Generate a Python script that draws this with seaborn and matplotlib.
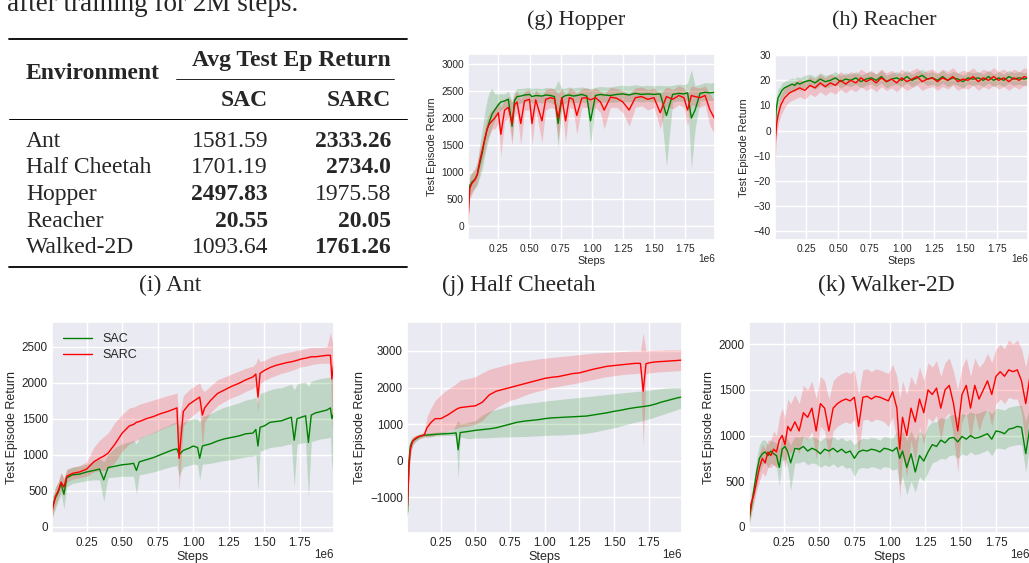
import numpy as np
import matplotlib
matplotlib.use("Agg")
import matplotlib.pyplot as plt
from matplotlib.lines import Line2D
import seaborn as sns

# ------------------------------------------------------------
# data (steps in millions, returns)
# ------------------------------------------------------------
table_envs = ["Ant", "Half Cheetah", "Hopper", "Reacher", "Walked-2D"]
table_sac = ["1581.59", "1701.19", "2497.83", "20.55", "1093.64"]
table_sarc = ["2333.26", "2734.0", "1975.58", "20.05", "1761.26"]
table_sac_bold = [False, False, True, True, False]
table_sarc_bold = [True, True, False, True, True]

hopper_steps = [0.005, 0.02, 0.04, 0.06, 0.08, 0.10, 0.12, 0.14, 0.16, 0.18,
                0.20, 0.22, 0.25, 0.27, 0.30, 0.33, 0.36, 0.38, 0.40, 0.43,
                0.46, 0.50, 0.52, 0.55, 0.60, 0.63, 0.67, 0.70, 0.73, 0.76,
                0.79, 0.82, 0.85, 0.88, 0.92, 0.96, 0.99, 1.03, 1.07, 1.10,
                1.15, 1.20, 1.25, 1.30, 1.35, 1.40, 1.45, 1.50, 1.55, 1.60,
                1.65, 1.70, 1.74, 1.77, 1.80, 1.83, 1.87, 1.91, 1.95, 1.99]
hopper_sac = [250, 750, 820, 860, 950, 1150, 1350, 1600, 1800, 1950,
              2080, 2150, 2250, 2300, 2320, 2350, 1850, 2330, 2400, 2410,
              2430, 2440, 2400, 2420, 2410, 2430, 2420, 2400, 1900, 2380,
              2420, 2430, 2410, 2420, 2440, 2410, 1950, 2420, 2440, 2430,
              2420, 2440, 2450, 2430, 2460, 2440, 2450, 2440, 2450, 2050,
              2440, 2460, 2450, 2470, 2000, 2150, 2460, 2480, 2470, 2480]
hopper_sac_lo = [100, 550, 650, 700, 750, 900, 1050, 1300, 1500, 1700,
                 1850, 1950, 2100, 2150, 2200, 2200, 1600, 2200, 2250, 2280,
                 2300, 2300, 2280, 2300, 2280, 2300, 2290, 2250, 1450, 2250,
                 2280, 2300, 2280, 2290, 2300, 2280, 1500, 2280, 2300, 2300,
                 2290, 2300, 2310, 2300, 2320, 2300, 2310, 2300, 2310, 1100,
                 2300, 2320, 2310, 2330, 1050, 1800, 2320, 2330, 2330, 2340]
hopper_sac_hi = [400, 950, 1000, 1050, 1200, 1500, 1800, 2100, 2350, 2500,
                 2550, 2450, 2450, 2450, 2450, 2500, 2300, 2500, 2550, 2550,
                 2560, 2570, 2550, 2560, 2550, 2570, 2560, 2550, 2700, 2550,
                 2560, 2580, 2560, 2570, 2580, 2560, 2550, 2570, 2590, 2580,
                 2580, 2600, 2610, 2600, 2620, 2600, 2610, 2600, 2610, 2600,
                 2610, 2630, 2620, 2650, 2900, 2600, 2630, 2660, 2650, 2670]
hopper_sarc = [50, 700, 800, 850, 950, 1200, 1400, 1600, 1800, 1900,
               1950, 2000, 2100, 1700, 2150, 2200, 1900, 2250, 2300, 1900,
               2320, 2350, 1900, 2340, 1950, 2350, 2380, 2360, 2000, 2380,
               1950, 2380, 2350, 2050, 2370, 2380, 2340, 2380, 2300, 2150,
               2390, 2370, 2300, 2150, 2380, 2400, 2350, 2380, 2100, 2400,
               2350, 2420, 2380, 2150, 2420, 2400, 2380, 2420, 2150, 1980]
hopper_sarc_lo = [0, 500, 600, 700, 800, 1000, 1200, 1400, 1600, 1700,
                  1800, 1800, 1900, 1300, 1950, 2000, 1500, 2050, 2100, 1500,
                  2150, 2150, 1500, 2150, 1550, 2150, 2200, 2180, 1600, 2200,
                  1550, 2200, 2180, 1700, 2200, 2200, 2150, 2200, 2100, 1800,
                  2200, 2200, 2100, 1850, 2200, 2230, 2150, 2200, 1800, 2230,
                  2170, 2250, 2200, 1850, 2250, 2230, 2200, 2250, 1850, 1700]
hopper_sarc_hi = [150, 900, 1000, 1050, 1150, 1400, 1600, 1800, 2000, 2100,
                  2150, 2200, 2300, 2200, 2350, 2400, 2300, 2450, 2500, 2350,
                  2500, 2530, 2350, 2520, 2400, 2530, 2560, 2540, 2450, 2560,
                  2400, 2560, 2530, 2450, 2550, 2560, 2520, 2560, 2500, 2450,
                  2570, 2550, 2500, 2450, 2560, 2580, 2530, 2560, 2450, 2580,
                  2530, 2600, 2560, 2450, 2600, 2580, 2560, 2600, 2450, 2300]

reacher_steps = [0.003, 0.006, 0.01, 0.015, 0.02, 0.03, 0.04, 0.05, 0.06, 0.08,
                 0.10, 0.12, 0.14, 0.16, 0.18, 0.20, 0.24, 0.28, 0.32, 0.36,
                 0.40, 0.44, 0.48, 0.52, 0.56, 0.60, 0.64, 0.68, 0.72, 0.76,
                 0.80, 0.84, 0.88, 0.92, 0.96, 1.00, 1.04, 1.08, 1.12, 1.16,
                 1.20, 1.24, 1.28, 1.32, 1.36, 1.40, 1.44, 1.48, 1.52, 1.56,
                 1.60, 1.64, 1.68, 1.72, 1.76, 1.80, 1.84, 1.88, 1.92, 1.96,
                 1.99]
reacher_sac = [-22, -5, 3, 8, 10, 13, 14, 15, 16, 17,
               17.5, 18, 18.5, 18, 19, 18.5, 19.5, 20, 19, 20.5,
               19.5, 20, 21, 19.5, 20.5, 20, 21, 19.5, 20.5, 21,
               20, 21.5, 19.5, 20.5, 21, 20, 21.5, 20, 21, 22,
               20.5, 21, 20, 21.5, 20, 21, 20.5, 19.5, 21, 20.5,
               21, 20, 21.5, 20, 21, 20, 21.5, 20.5, 21, 20.5,
               21]
reacher_sac_lo = [-30, -12, -3, 3, 6, 9, 11, 12, 13, 14.5,
                  15, 15.5, 16, 15.5, 16.5, 16, 17, 17.5, 16.5, 18,
                  17, 17.5, 18.5, 17, 18, 17.5, 18.5, 17, 18, 18.5,
                  17.5, 19, 17, 18, 18.5, 17.5, 19, 17.5, 18.5, 19.5,
                  18, 18.5, 17.5, 19, 17.5, 18.5, 18, 17, 18.5, 18,
                  18.5, 17.5, 19, 17.5, 18.5, 17.5, 19, 18, 18.5, 18,
                  18.5]
reacher_sac_hi = [-14, 2, 9, 13, 14, 17, 17, 18, 19, 19.5,
                  20, 20.5, 21, 20.5, 21.5, 21, 22, 22.5, 21.5, 23,
                  22, 22.5, 23.5, 22, 23, 22.5, 23.5, 22, 23, 23.5,
                  22.5, 24, 22, 23, 23.5, 22.5, 24, 22.5, 23.5, 24.5,
                  23, 23.5, 22.5, 24, 22.5, 23.5, 23, 22, 23.5, 23,
                  23.5, 22.5, 24, 22.5, 23.5, 22.5, 24, 23, 23.5, 23,
                  23.5]
reacher_sarc = [-15, -8, -3, 0, 3, 6, 8, 10, 11, 13,
                14, 15, 15.5, 16, 16.5, 17, 16, 18, 17, 19,
                17.5, 19, 18, 20, 18.5, 20, 19, 21, 19.5, 20.5,
                19, 21, 19.5, 20.5, 19, 21, 19.5, 20.5, 21.5, 19.5,
                20.5, 21, 19.5, 21, 20, 21.5, 19.5, 20.5, 20, 21.5,
                19.5, 21, 20, 21.5, 20, 21, 19.5, 21, 20, 21.5,
                21]
reacher_sarc_lo = [-35, -20, -10, -5, -2, 2, 4, 6, 7, 9,
                   10.5, 11.5, 12, 12.5, 13, 13.5, 12.5, 14.5, 13.5, 15.5,
                   14, 15.5, 14.5, 16.5, 15, 16.5, 15.5, 17.5, 16, 17,
                   15.5, 17.5, 16, 17, 15.5, 17.5, 16, 17, 18, 16,
                   17, 17.5, 16, 17.5, 16.5, 18, 16, 17, 16.5, 18,
                   16, 17.5, 16.5, 18, 16.5, 17.5, 16, 17.5, 16.5, 18,
                   17.5]
reacher_sarc_hi = [-5, 0, 3, 5, 7, 10, 12, 14, 15, 17,
                   17.5, 18.5, 19, 19.5, 20, 20.5, 19.5, 21.5, 20.5, 22.5,
                   21, 22.5, 21.5, 23.5, 22, 23.5, 22.5, 24.5, 23, 24,
                   22.5, 24.5, 23, 24, 22.5, 24.5, 23, 24, 25, 23,
                   24, 24.5, 23, 24.5, 23.5, 25, 23, 24, 23.5, 25,
                   23, 24.5, 23.5, 25, 23.5, 24.5, 23, 24.5, 23.5, 25,
                   24.5]

ant_steps = [0.005, 0.03, 0.05, 0.07, 0.09, 0.11, 0.15, 0.20, 0.25, 0.30,
             0.34, 0.37, 0.40, 0.45, 0.50, 0.55, 0.58, 0.60, 0.62, 0.67,
             0.72, 0.77, 0.82, 0.86, 0.885, 0.90, 0.93, 0.97, 1.00, 1.03,
             1.045, 1.064, 1.08, 1.12, 1.17, 1.22, 1.27, 1.32, 1.37, 1.42,
             1.44, 1.455, 1.47, 1.50, 1.54, 1.58, 1.62, 1.66, 1.69, 1.71,
             1.73, 1.76, 1.79, 1.81, 1.83, 1.86, 1.90, 1.94, 1.965, 1.975,
             1.99]
ant_sac = [250, 400, 480, 600, 450, 680, 720, 730, 760, 780,
           800, 650, 820, 840, 860, 870, 880, 780, 900, 930,
           960, 1000, 1040, 1070, 1080, 1000, 1060, 1090, 1120, 1100,
           950, 1120, 1130, 1150, 1190, 1220, 1240, 1260, 1290, 1300,
           1350, 1120, 1380, 1400, 1450, 1460, 1470, 1500, 1520, 1200,
           1500, 1520, 1540, 1170, 1550, 1580, 1600, 1620, 1650, 1500,
           1580]
ant_sac_lo = [100, 250, 350, 450, 250, 550, 600, 620, 640, 650,
              650, 350, 680, 690, 700, 700, 700, 450, 720, 740,
              760, 790, 820, 840, 850, 700, 830, 850, 870, 860,
              650, 870, 870, 880, 900, 920, 930, 950, 970, 980,
              1000, 500, 1050, 1070, 1100, 1110, 1120, 1140, 1150, 550,
              1150, 1160, 1170, 400, 1180, 1200, 1220, 1230, 1240, 750,
              1300]
ant_sac_hi = [400, 550, 620, 750, 650, 800, 830, 840, 870, 900,
              950, 900, 1000, 1100, 1150, 1180, 1200, 1150, 1230, 1270,
              1310, 1360, 1400, 1440, 1450, 1400, 1450, 1480, 1500, 1500,
              1450, 1530, 1540, 1570, 1620, 1660, 1690, 1720, 1760, 1780,
              1800, 1700, 1850, 1870, 1900, 1920, 1930, 1960, 1980, 1900,
              1980, 2000, 2010, 1950, 2020, 2040, 2060, 2070, 2080, 2050,
              2050]
ant_sarc = [200, 420, 500, 620, 550, 700, 740, 760, 800, 900,
            950, 980, 1020, 1150, 1300, 1400, 1420, 1450, 1460, 1500,
            1530, 1570, 1600, 1630, 1650, 950, 1600, 1700, 1740, 1780,
            1800, 1550, 1650, 1750, 1850, 1900, 1950, 1990, 2040, 2080,
            2120, 1800, 2130, 2170, 2210, 2240, 2260, 2280, 2290, 2300,
            2310, 2330, 2340, 2350, 2360, 2360, 2370, 2380, 2380, 2050,
            2300]
ant_sarc_lo = [100, 300, 400, 500, 420, 620, 660, 680, 700, 760,
               780, 780, 800, 900, 1050, 1150, 1180, 1200, 1220, 1270,
               1300, 1350, 1390, 1420, 1440, 500, 1400, 1500, 1550, 1600,
               1620, 1100, 1450, 1580, 1680, 1740, 1790, 1830, 1880, 1920,
               1960, 1600, 1980, 2030, 2070, 2100, 2130, 2150, 2170, 2180,
               2200, 2220, 2230, 2240, 2250, 2260, 2270, 2270, 2260, 1300,
               2150]
ant_sarc_hi = [300, 550, 620, 750, 680, 790, 820, 850, 900, 1100,
               1200, 1250, 1300, 1450, 1560, 1650, 1660, 1680, 1700, 1730,
               1760, 1790, 1820, 1840, 1860, 1500, 1820, 1900, 1940, 1980,
               2000, 1900, 1880, 1950, 2040, 2080, 2120, 2160, 2200, 2230,
               2270, 2350, 2290, 2310, 2350, 2380, 2400, 2420, 2430, 2440,
               2450, 2460, 2470, 2480, 2490, 2490, 2490, 2500, 2700, 2600,
               2450]

cheetah_steps = [0.003, 0.01, 0.02, 0.03, 0.04, 0.05, 0.07, 0.09, 0.11, 0.13,
                 0.15, 0.18, 0.21, 0.25, 0.30, 0.34, 0.36, 0.375, 0.39, 0.45,
                 0.50, 0.55, 0.60, 0.65, 0.70, 0.75, 0.80, 0.85, 0.90, 0.95,
                 1.00, 1.05, 1.10, 1.15, 1.20, 1.25, 1.30, 1.35, 1.40, 1.45,
                 1.50, 1.55, 1.60, 1.65, 1.69, 1.71, 1.73, 1.76, 1.80, 1.84,
                 1.88, 1.92, 1.96, 1.99]
cheetah_sac = [-1500, -1400, 0, 400, 500, 550, 600, 650, 680, 700,
               700, 710, 720, 730, 740, 750, 760, 300, 770, 800,
               830, 850, 870, 900, 950, 1000, 1050, 1080, 1100, 1120,
               1150, 1170, 1180, 1190, 1200, 1210, 1220, 1250, 1280, 1310,
               1350, 1380, 1420, 1450, 1470, 1480, 1490, 1510, 1550, 1600,
               1640, 1680, 1720, 1740]
cheetah_sac_lo = [-1600, -1500, -300, 200, 350, 450, 520, 580, 620, 650,
                  650, 660, 670, 680, 690, 690, 680, -500, 650, 600,
                  620, 620, 630, 640, 650, 650, 660, 660, 670, 680,
                  690, 700, 700, 710, 720, 730, 750, 780, 820, 860,
                  900, 950, 1000, 1050, 1080, 1100, 1120, 1150, 1200, 1250,
                  1300, 1350, 1400, 1450]
cheetah_sac_hi = [-1400, -1300, 300, 550, 650, 650, 680, 720, 740, 760,
                  760, 770, 780, 790, 800, 830, 1000, 1100, 1000, 1050,
                  1100, 1250, 1350, 1400, 1450, 1500, 1530, 1560, 1580, 1600,
                  1630, 1650, 1670, 1690, 1710, 1730, 1750, 1770, 1790, 1810,
                  1830, 1850, 1870, 1890, 1900, 1910, 1920, 1930, 1950, 1970,
                  1990, 2000, 2000, 1990]
cheetah_sarc = [-1400, -1200, -200, 300, 450, 550, 620, 660, 680, 700,
                900, 1050, 1150, 1150, 1250, 1350, 1400, 1430, 1450, 1480,
                1500, 1600, 1800, 1900, 1950, 2000, 2050, 2100, 2150, 2200,
                2250, 2280, 2300, 2340, 2380, 2400, 2450, 2500, 2540, 2580,
                2600, 2620, 2640, 2660, 2660, 1900, 2650, 2680, 2700, 2710,
                2720, 2730, 2740, 2750]
cheetah_sarc_lo = [-1500, -1300, -400, 100, 300, 450, 550, 600, 620, 650,
                   650, 650, 700, 750, 800, 850, 880, 900, 920, 950,
                   1000, 1100, 1300, 1450, 1550, 1650, 1700, 1780, 1850, 1900,
                   1950, 2000, 2030, 2070, 2100, 2140, 2180, 2220, 2260, 2300,
                   2320, 2350, 2370, 2380, 2400, 400, 2380, 2400, 2420, 2430,
                   2440, 2450, 2460, 2470]
cheetah_sarc_hi = [-1300, -1100, 0, 500, 600, 650, 700, 720, 750, 800,
                   1200, 1450, 1650, 1800, 1950, 2050, 2100, 2150, 2200, 2250,
                   2300, 2400, 2500, 2550, 2600, 2650, 2700, 2720, 2750, 2780,
                   2800, 2820, 2840, 2860, 2880, 2900, 2920, 2940, 2950, 2960,
                   2970, 2980, 2990, 3000, 3000, 3500, 3000, 3010, 3020, 3020,
                   3030, 3030, 3030, 3040]

walker_steps = [0.003, 0.02, 0.04, 0.06, 0.08, 0.10, 0.12, 0.14, 0.16, 0.18,
                0.20, 0.22, 0.24, 0.26, 0.28, 0.30, 0.33, 0.36, 0.39, 0.42,
                0.45, 0.48, 0.51, 0.54, 0.57, 0.60, 0.63, 0.66, 0.69, 0.72,
                0.75, 0.78, 0.81, 0.84, 0.87, 0.90, 0.93, 0.96, 0.99, 1.02,
                1.05, 1.07, 1.09, 1.12, 1.15, 1.18, 1.21, 1.24, 1.27, 1.30,
                1.33, 1.36, 1.39, 1.42, 1.45, 1.48, 1.51, 1.54, 1.57, 1.60,
                1.63, 1.66, 1.69, 1.72, 1.75, 1.78, 1.81, 1.84, 1.87, 1.90,
                1.93, 1.96, 1.99]
walker_sac = [50, 200, 400, 600, 750, 800, 820, 780, 830, 800,
              780, 650, 850, 880, 820, 700, 860, 850, 880, 830,
              860, 840, 800, 850, 830, 860, 820, 850, 810, 830,
              750, 820, 840, 830, 850, 840, 820, 860, 850, 830,
              870, 750, 830, 650, 800, 600, 780, 720, 820, 900,
              880, 950, 920, 970, 980, 930, 990, 960, 1000, 970,
              980, 1000, 1020, 960, 1050, 1040, 1020, 1070, 1080, 1100,
              1090, 800, 1100]
walker_sac_lo = [0, 100, 300, 450, 600, 680, 700, 650, 700, 680,
                 650, 450, 720, 740, 650, 400, 700, 700, 720, 680,
                 700, 690, 650, 680, 660, 690, 650, 680, 640, 650,
                 550, 640, 650, 640, 660, 650, 630, 660, 650, 620,
                 640, 450, 550, 350, 500, 380, 550, 500, 600, 700,
                 720, 750, 740, 780, 790, 750, 800, 780, 820, 790,
                 800, 820, 840, 780, 860, 860, 850, 880, 890, 900,
                 900, 600, 920]
walker_sac_hi = [150, 300, 500, 750, 900, 950, 950, 900, 950, 930,
                 920, 850, 980, 1000, 950, 900, 990, 980, 1000, 960,
                 990, 970, 940, 980, 960, 990, 950, 980, 940, 960,
                 900, 950, 970, 960, 980, 970, 950, 990, 980, 970,
                 1050, 950, 1050, 950, 1050, 950, 1050, 1000, 1100, 1150,
                 1150, 1200, 1180, 1220, 1230, 1200, 1240, 1230, 1260, 1240,
                 1250, 1270, 1280, 1240, 1300, 1290, 1280, 1310, 1320, 1330,
                 1330, 1150, 1340]
walker_sarc = [50, 250, 350, 500, 650, 750, 700, 820, 780, 850,
               820, 950, 1000, 900, 1100, 1050, 1150, 1050, 1250, 1200,
               1300, 1050, 1350, 1300, 1050, 1300, 1350, 1380, 1400, 1380,
               1420, 1100, 1420, 1430, 1400, 1430, 1420, 1400, 1380, 1480,
               1300, 850, 1200, 1000, 1300, 1150, 1400, 1250, 1500, 1450,
               1520, 1300, 1500, 1550, 1350, 1050, 1450, 1550, 1300, 1550,
               1400, 1500, 1600, 1450, 1650, 1700, 1650, 1720, 1700, 1720,
               1600, 1350, 1650]
walker_sarc_lo = [0, 150, 250, 400, 500, 600, 550, 650, 650, 680,
                  650, 750, 780, 650, 850, 800, 900, 800, 1000, 950,
                  1050, 750, 1100, 1050, 750, 1050, 1100, 1130, 1150, 1130,
                  1170, 800, 1170, 1180, 1150, 1180, 1170, 1150, 1100, 1200,
                  950, 300, 800, 550, 950, 700, 1100, 900, 1200, 1150,
                  1220, 950, 1200, 1250, 1000, 600, 1150, 1250, 950, 1250,
                  1050, 1200, 1300, 1100, 1350, 1400, 1350, 1420, 1400, 1400,
                  1250, 900, 1300]
walker_sarc_hi = [100, 350, 450, 650, 800, 900, 850, 950, 950, 1050,
                  1000, 1200, 1300, 1200, 1400, 1350, 1450, 1350, 1550, 1500,
                  1600, 1400, 1650, 1600, 1400, 1600, 1650, 1680, 1700, 1680,
                  1720, 1450, 1720, 1730, 1700, 1730, 1720, 1700, 1680, 1780,
                  1650, 1400, 1600, 1450, 1650, 1550, 1750, 1600, 1800, 1750,
                  1820, 1650, 1800, 1850, 1700, 1500, 1750, 1850, 1650, 1850,
                  1750, 1800, 1900, 1800, 1950, 2000, 1950, 2050, 2000, 2050,
                  1950, 1750, 2000]

# ------------------------------------------------------------
# style / layout
# ------------------------------------------------------------
W, H = 1029, 563
sns.set_theme(style="darkgrid")
plt.rcParams["font.family"] = ["Liberation Sans", "DejaVu Sans"]
SERIF = ["Liberation Serif", "DejaVu Serif"]

fig = plt.figure(figsize=(W / 100, H / 100), dpi=100)


def fx(px):
    return px / W


def fy(py):
    return 1 - py / H


def add_ax(left, top, right, bottom):
    return fig.add_axes([fx(left), fy(bottom), (right - left) / W, (bottom - top) / H])


def draw_env(ax, steps, sac, sac_lo, sac_hi, sarc, sarc_lo, sarc_hi,
             ylim, yticks, fs_tick, fs_label, legend=False):
    x = np.array(steps) * 1e6
    ax.fill_between(x, sac_lo, sac_hi, color="green", alpha=0.18, lw=0)
    ax.fill_between(x, sarc_lo, sarc_hi, color="red", alpha=0.18, lw=0)
    sns.lineplot(x=x, y=sac, color="green", lw=1.0, ax=ax, label="SAC")
    sns.lineplot(x=x, y=sarc, color="red", lw=1.0, ax=ax, label="SARC")
    ax.set_xlim(6e3, 1.99e6)
    ax.set_ylim(*ylim)
    ax.set_xticks(np.array([0.25, 0.5, 0.75, 1.0, 1.25, 1.5, 1.75]) * 1e6)
    ax.set_yticks(yticks)
    ax.tick_params(labelsize=fs_tick, length=0, pad=3, colors=".15")
    # place the "1e6" multiplier by hand, a little higher than the default spot
    ax.xaxis.get_offset_text().set_visible(False)
    ax.text(1.0, -0.102, "1e6", transform=ax.transAxes, ha="right", va="center",
            fontsize=fs_tick, color=".15")
    ax.set_xlabel("Steps", fontsize=fs_label, labelpad=1)
    ax.set_ylabel("Test Episode Return", fontsize=fs_label, labelpad=3)
    if legend:
        ax.legend(loc="upper left", frameon=False, fontsize=fs_label,
                  handlelength=2.3, borderaxespad=0.5, labelspacing=0.3)
    else:
        ax.get_legend().remove()


ax_h = add_ax(468, 54, 715, 240)
draw_env(ax_h, hopper_steps, hopper_sac, hopper_sac_lo, hopper_sac_hi,
         hopper_sarc, hopper_sarc_lo, hopper_sarc_hi,
         (-260, 3190), [0, 500, 1000, 1500, 2000, 2500, 3000], 7.3, 7.8)

ax_r = add_ax(775, 55, 1028, 240)
draw_env(ax_r, reacher_steps, reacher_sac, reacher_sac_lo, reacher_sac_hi,
         reacher_sarc, reacher_sarc_lo, reacher_sarc_hi,
         (-43.6, 30.1), [-40, -30, -20, -10, 0, 10, 20, 30], 7.3, 7.8)

ax_a = add_ax(52, 322, 334, 533)
draw_env(ax_a, ant_steps, ant_sac, ant_sac_lo, ant_sac_hi,
         ant_sarc, ant_sarc_lo, ant_sarc_hi,
         (-88, 2843), [0, 500, 1000, 1500, 2000, 2500], 8.4, 9.0, legend=True)

ax_c = add_ax(407, 322, 682, 533)
draw_env(ax_c, cheetah_steps, cheetah_sac, cheetah_sac_lo, cheetah_sac_hi,
         cheetah_sarc, cheetah_sarc_lo, cheetah_sarc_hi,
         (-1975, 3790), [-1000, 0, 1000, 2000, 3000], 8.4, 9.0)

ax_w = add_ax(749, 322, 1030, 533)
draw_env(ax_w, walker_steps, walker_sac, walker_sac_lo, walker_sac_hi,
         walker_sarc, walker_sarc_lo, walker_sarc_hi,
         (-69, 2245), [0, 500, 1000, 1500, 2000], 8.4, 9.0)

# ------------------------------------------------------------
# captions
# ------------------------------------------------------------
fig.text(fx(576), fy(25), "(g) Hopper", family=SERIF, fontsize=16, ha="center", va="baseline")
fig.text(fx(884), fy(25), "(h) Reacher", family=SERIF, fontsize=16, ha="center", va="baseline")
fig.text(fx(170), fy(291), "(i) Ant", family=SERIF, fontsize=17, ha="center", va="baseline")
fig.text(fx(519), fy(291), "(j) Half Cheetah", family=SERIF, fontsize=17, ha="center", va="baseline")
fig.text(fx(886), fy(291), "(k) Walker-2D", family=SERIF, fontsize=17, ha="center", va="baseline")
fig.text(fx(7), fy(11), "after training for 2M steps.", family=SERIF, fontsize=19.5, va="baseline")

# ------------------------------------------------------------
# table
# ------------------------------------------------------------
def hline(x0, x1, y, lw):
    fig.add_artist(Line2D([fx(x0), fx(x1)], [fy(y), fy(y)], color="black", lw=lw,
                          transform=fig.transFigure))


hline(9, 407, 39, 1.3)
hline(176, 394, 79, 0.6)
hline(9, 407, 119, 0.7)
hline(9, 407, 267, 1.3)

fs_tab = 17
fig.text(fx(26), fy(79), "Environment", family=SERIF, fontsize=fs_tab, weight="bold", va="baseline")
fig.text(fx(391), fy(66), "Avg Test Ep Return", family=SERIF, fontsize=fs_tab, weight="bold",
         ha="right", va="baseline")
fig.text(fx(268), fy(106), "SAC", family=SERIF, fontsize=fs_tab, weight="bold", ha="right", va="baseline")
fig.text(fx(391), fy(106), "SARC", family=SERIF, fontsize=fs_tab, weight="bold", ha="right", va="baseline")

row_base = [146.7, 173.3, 200, 226.7, 253.3]
for i, env in enumerate(table_envs):
    yb = fy(row_base[i])
    fig.text(fx(26), yb, env, family=SERIF, fontsize=fs_tab, va="baseline")
    fig.text(fx(268), yb, table_sac[i], family=SERIF, fontsize=fs_tab, ha="right", va="baseline",
             weight="bold" if table_sac_bold[i] else "normal")
    fig.text(fx(391), yb, table_sarc[i], family=SERIF, fontsize=fs_tab, ha="right", va="baseline",
             weight="bold" if table_sarc_bold[i] else "normal")

fig.savefig("out.png", dpi=100)
